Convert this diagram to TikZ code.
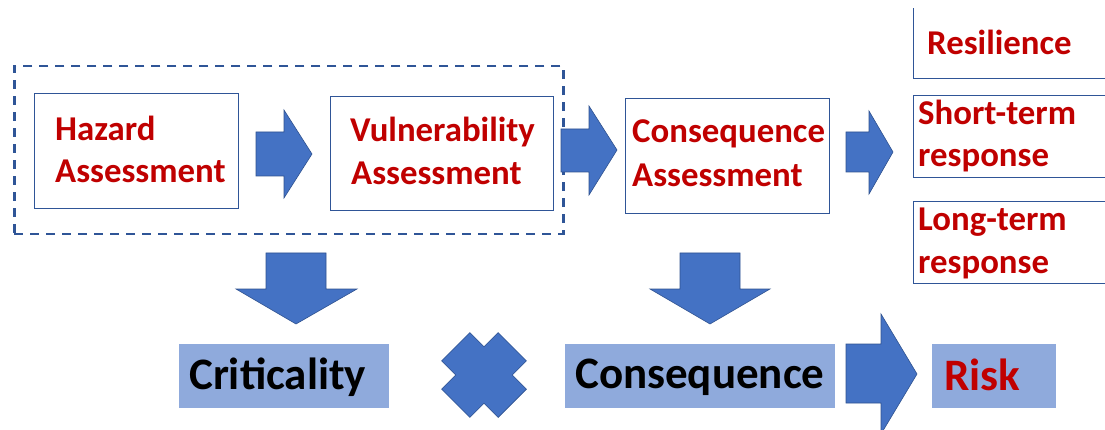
\documentclass[tikz,border=0pt]{standalone}
\usepackage{fontspec}
\setmainfont{Carlito}
\definecolor{txtred}{HTML}{C00000}
\definecolor{boxline}{HTML}{2F5597}
\definecolor{arrfill}{HTML}{4472C4}
\definecolor{arrline}{HTML}{2F528F}
\definecolor{lightfill}{HTML}{8FAADC}
\begin{document}
\begin{tikzpicture}[x=1pt,y=-1pt,
  box/.style={draw=boxline,line width=1.1pt,fill=white,rectangle,inner sep=0pt,anchor=north west},
  dashbox/.style={draw=boxline,line width=2.5pt,dash pattern=on 9pt off 7pt,rectangle,inner sep=0pt,anchor=north west},
  fillbox/.style={fill=lightfill,rectangle,inner sep=0pt,anchor=north west},
  redtxt/.style={text=txtred,font=\fontsize{34.8}{41}\selectfont\bfseries,inner sep=0pt,anchor=base west},
  bigtxt/.style={font=\fontsize{45}{52}\selectfont\bfseries,inner sep=0pt,anchor=base west},
  blockarrow/.style={fill=arrfill,draw=arrline,line width=0.6pt,line join=miter}]
\useasboundingbox (0,0) rectangle (1105,430);
\clip (0,9) rectangle (1105,430);
% group box
\node[dashbox,minimum width=549pt,minimum height=168pt] (grp) at (13,65) {};
% top boxes
\node[box,minimum width=204pt,minimum height=115pt] (haz) at (34,93) {};
\node[redtxt] (hazA) at (55,141) {Hazard};
\node[redtxt] (hazB) at (55,183) {Assessment};
\node[box,minimum width=223pt,minimum height=114pt] (vul) at (330,96) {};
\node[redtxt] (vulA) at (350,142) {Vulnerability};
\node[redtxt] (vulB) at (351,185) {Assessment};
\node[box,minimum width=204pt,minimum height=115pt] (con) at (625,98) {};
\node[redtxt] (conA) at (632,143) {Consequence};
\node[redtxt] (conB) at (632,187) {Assessment};
% right boxes
\node[box,minimum width=220pt,minimum height=100pt] (res) at (913,-22) {};
\node[redtxt] (resT) at (927,55) {Resilience};
\node[box,minimum width=220pt,minimum height=82pt] (st) at (913,95) {};
\node[redtxt] (stA) at (918,125) {Short-term};
\node[redtxt] (stB) at (918,167) {response};
\node[box,minimum width=220pt,minimum height=82pt] (lt) at (913,201) {};
\node[redtxt] (ltA) at (918,231) {Long-term};
\node[redtxt] (ltB) at (918,273) {response};
% right block arrows
\draw[blockarrow] (256,132) -- (284,132) -- (284,110) -- (312,154) -- (284,198) -- (284,176) -- (256,176) -- cycle;
\draw[blockarrow] (561,129) -- (589,129) -- (589,106) -- (617,150) -- (589,195) -- (589,172) -- (561,172) -- cycle;
\draw[blockarrow] (846,132) -- (869,132) -- (869,111) -- (893,152) -- (869,194) -- (869,172) -- (846,172) -- cycle;
% down block arrows
\draw[blockarrow] (266,253) -- (326,253) -- (326,289) -- (357,289) -- (296,324) -- (236,289) -- (266,289) -- cycle;
\draw[blockarrow] (680,253) -- (740,253) -- (740,289) -- (770,289) -- (710,324) -- (650,289) -- (680,289) -- cycle;
% bottom boxes
\node[fillbox,minimum width=210pt,minimum height=64pt] (crit) at (179,344) {};
\node[bigtxt] (critT) at (189,389) {Criticality};
\node[fillbox,minimum width=270pt,minimum height=64pt] (cons) at (565,344) {};
\node[bigtxt] (consT) at (575,388) {Consequence};
\node[fillbox,minimum width=124pt,minimum height=64pt] (risk) at (932,344) {};
\node[bigtxt,text=txtred] (riskT) at (944,390) {Risk};
% multiply sign
\begin{scope}[shift={(484,375)},rotate=45]
\draw[blockarrow] (40,20) -- (20,20) -- (20,40) -- (-20,40) -- (-20,20) -- (-40,20) -- (-40,-20) -- (-20,-20) -- (-20,-40) -- (20,-40) -- (20,-20) -- (40,-20) -- cycle;
\end{scope}
% arrow to risk
\draw[blockarrow] (846,344) -- (881,344) -- (881,314) -- (917,374) -- (881,434) -- (881,403) -- (846,403) -- cycle;
\end{tikzpicture}
\end{document}
